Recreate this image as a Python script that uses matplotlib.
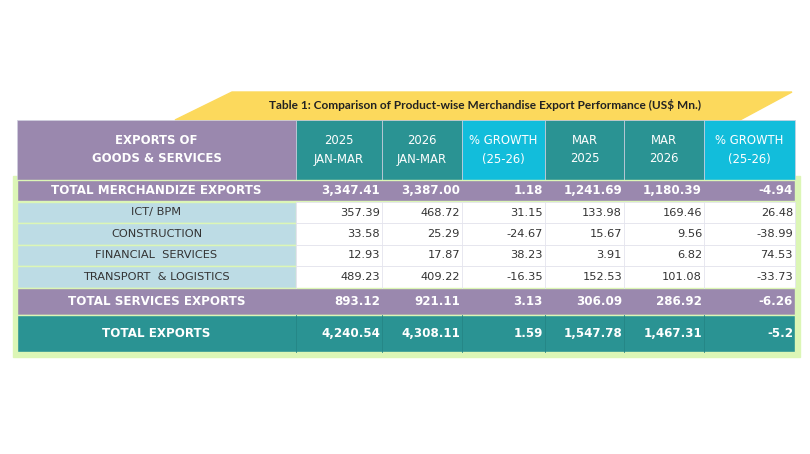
import matplotlib
matplotlib.use("Agg")
import matplotlib.pyplot as plt
from matplotlib.patches import Rectangle, Polygon

title = "Table 1: Comparison of Product-wise Merchandise Export Performance (US$ Mn.)"
headers = ["EXPORTS OF\nGOODS & SERVICES", "2025\nJAN-MAR", "2026\nJAN-MAR", "% GROWTH\n(25-26)",
           "MAR\n2025", "MAR\n2026", "% GROWTH\n(25-26)"]
categories = ["TOTAL MERCHANDIZE EXPORTS", "ICT/ BPM", "CONSTRUCTION", "FINANCIAL  SERVICES",
              "TRANSPORT  & LOGISTICS", "TOTAL SERVICES EXPORTS", "TOTAL EXPORTS"]
jan_mar_2025 = ["3,347.41", "357.39", "33.58", "12.93", "489.23", "893.12", "4,240.54"]
jan_mar_2026 = ["3,387.00", "468.72", "25.29", "17.87", "409.22", "921.11", "4,308.11"]
growth_ytd = ["1.18", "31.15", "-24.67", "38.23", "-16.35", "3.13", "1.59"]
mar_2025 = ["1,241.69", "133.98", "15.67", "3.91", "152.53", "306.09", "1,547.78"]
mar_2026 = ["1,180.39", "169.46", "9.56", "6.82", "101.08", "286.92", "1,467.31"]
growth_mar = ["-4.94", "26.48", "-38.99", "74.53", "-33.73", "-6.26", "-5.2"]
row_kind = ["purple", "sub", "sub", "sub", "sub", "purple", "teal"]

PURPLE = "#9a88ae"; TEAL = "#2a9393"; CYAN = "#12bddb"; LBLUE = "#bddce5"
GREEN = "#dcf6b6"; YELLOW = "#fcd95c"; DARK = "#333333"

fig = plt.figure(figsize=(8.1, 4.54), dpi=100)
ax = fig.add_axes([0, 0, 1, 1])
ax.set_xlim(0, 810); ax.set_ylim(454, 0); ax.axis("off")

# green backdrop
ax.add_patch(Rectangle((13, 176), 787, 181, color=GREEN, zorder=0))
# banner
ax.add_patch(Polygon([(175, 120), (232, 92), (792, 92), (740, 120)], color=YELLOW, zorder=1))
ax.text(485, 105, title, ha="center", va="center", fontsize=8.6, fontweight="bold",
        color="#222222", family="Lato", zorder=2)

xs = [17, 296, 382, 462, 545, 624, 704, 795]
ys_head = (120, 180)
row_y = [(180, 201), (202, 223), (223, 245), (245, 266), (266, 288), (288, 315), (315, 352)]
head_colors = [PURPLE, TEAL, TEAL, CYAN, TEAL, TEAL, CYAN]

for i, h in enumerate(headers):
    x0, x1 = xs[i], xs[i + 1]
    ax.add_patch(Rectangle((x0, ys_head[0]), x1 - x0, ys_head[1] - ys_head[0],
                           facecolor=head_colors[i], edgecolor="#cfcfe0", lw=0.5, zorder=2))
    ax.text((x0 + x1) / 2, 150, h, ha="center", va="center", fontsize=8.4,
            color="white", fontweight="bold" if i == 0 else "normal",
            linespacing=1.5, zorder=3)

cols = [jan_mar_2025, jan_mar_2026, growth_ytd, mar_2025, mar_2026, growth_mar]
for r, cat in enumerate(categories):
    y0, y1 = row_y[r]
    kind = row_kind[r]
    yc = (y0 + y1) / 2
    if kind == "sub":
        ax.add_patch(Rectangle((xs[0], y0), xs[1] - xs[0], y1 - y0, facecolor=LBLUE,
                               edgecolor=GREEN, lw=1, zorder=2))
        ax.add_patch(Rectangle((xs[1], y0), xs[-1] - xs[1], y1 - y0, facecolor="white",
                               edgecolor="#e4e4ee", lw=0.6, zorder=2))
        for j in range(1, 7):
            ax.plot([xs[j], xs[j]], [y0, y1], color="#e4e4ee", lw=0.6, zorder=3)
        tc, fw, fs = DARK, "normal", 8.2
    else:
        fc = PURPLE if kind == "purple" else TEAL
        ax.add_patch(Rectangle((xs[0], y0), xs[-1] - xs[0], y1 - y0, facecolor=fc,
                               edgecolor=GREEN, lw=1, zorder=2))
        if kind == "teal":
            for j in range(1, 7):
                ax.plot([xs[j], xs[j]], [y0, y1], color="#258585", lw=0.6, zorder=3)
        tc, fw, fs = "white", "bold", 8.6
    ax.text((xs[0] + xs[1]) / 2, yc, cat, ha="center", va="center", fontsize=fs,
            color=tc, fontweight=fw, zorder=4)
    for j, col in enumerate(cols):
        ax.text(xs[j + 2] - 2, yc, col[r], ha="right", va="center", fontsize=fs,
                color=tc, fontweight=fw, zorder=4)

fig.savefig("out.png", dpi=100, facecolor="white")
